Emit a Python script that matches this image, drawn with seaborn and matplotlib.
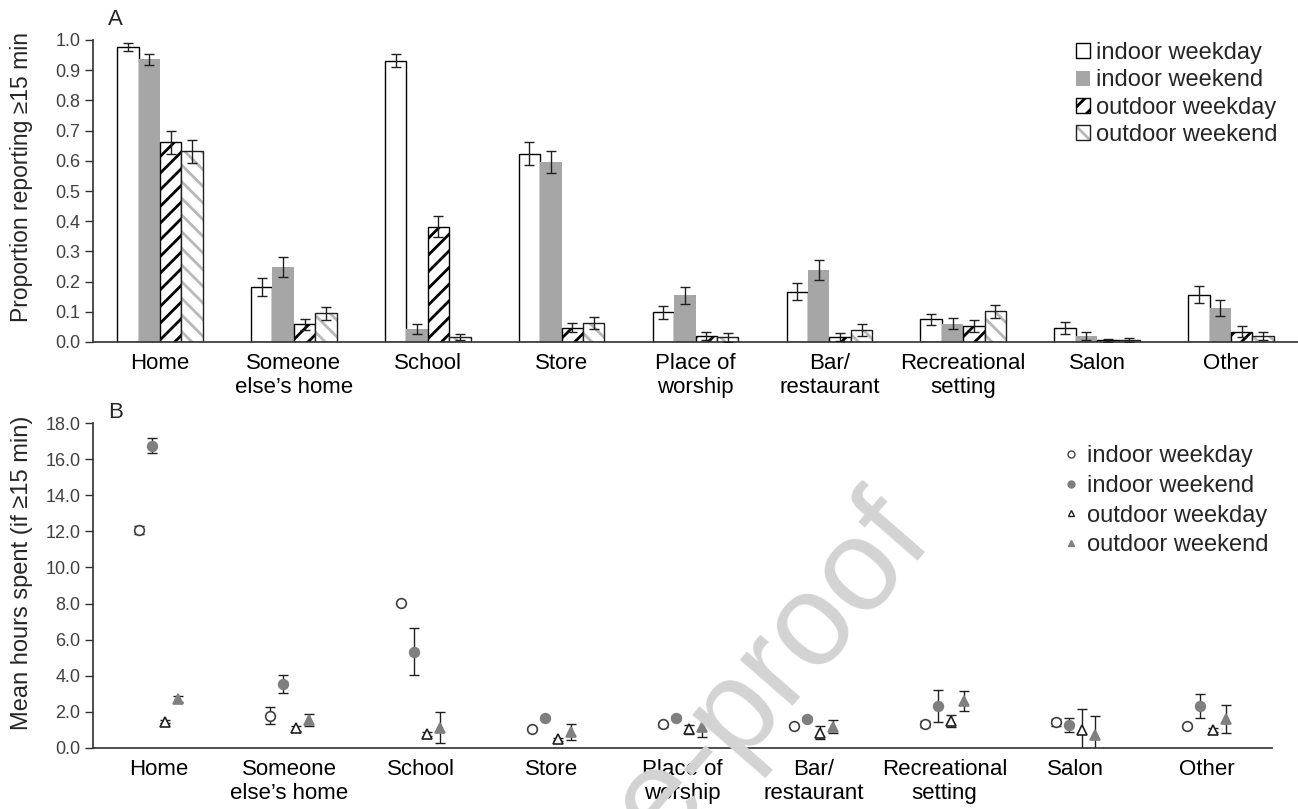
import matplotlib
matplotlib.use("Agg")
import matplotlib.pyplot as plt
from matplotlib.patches import Patch, Rectangle
from matplotlib.lines import Line2D
from matplotlib.ticker import FormatStrFormatter
import numpy as np
import pandas as pd
import seaborn as sns

sns.set_style("white")
plt.rcParams['font.family'] = ['Liberation Sans', 'DejaVu Sans']
plt.rcParams['hatch.linewidth'] = 2.0

locations = ["Home", "Someone\nelse\u2019s home", "School", "Store", "Place of\nworship",
             "Bar/\nrestaurant", "Recreational\nsetting", "Salon", "Other"]
conditions = ["indoor weekday", "indoor weekend", "outdoor weekday", "outdoor weekend"]

# panel A: proportion reporting >=15 min
prop_in_wd = [0.977, 0.181, 0.932, 0.623, 0.098, 0.166, 0.075, 0.047, 0.157]
prop_in_we = [0.936, 0.249, 0.043, 0.596, 0.155, 0.238, 0.060, 0.021, 0.112]
prop_out_wd = [0.662, 0.058, 0.382, 0.047, 0.020, 0.016, 0.052, 0.005, 0.034]
prop_out_we = [0.631, 0.095, 0.016, 0.063, 0.016, 0.039, 0.102, 0.006, 0.020]
prop_err_in_wd = [0.012, 0.030, 0.020, 0.038, 0.022, 0.028, 0.019, 0.019, 0.027]
prop_err_in_we = [0.018, 0.034, 0.018, 0.036, 0.028, 0.032, 0.018, 0.013, 0.026]
prop_err_out_wd = [0.038, 0.018, 0.035, 0.015, 0.014, 0.014, 0.020, 0.006, 0.018]
prop_err_out_we = [0.037, 0.022, 0.010, 0.020, 0.015, 0.019, 0.022, 0.006, 0.014]

# panel B: mean hours spent (if >=15 min)
hrs_in_wd = [12.07, 1.79, 8.05, 1.07, 1.31, 1.20, 1.33, 1.42, 1.22]
hrs_in_we = [16.74, 3.56, 5.33, 1.64, 1.68, 1.59, 2.33, 1.27, 2.33]
hrs_out_wd = [1.46, 1.09, 0.76, 0.48, 1.03, 0.85, 1.51, 1.00, 1.00]
hrs_out_we = [2.71, 1.55, 1.13, 0.90, 1.18, 1.18, 2.60, 0.72, 1.59]
hrs_err_in_wd = [0.20, 0.46, 0.05, 0.05, 0.15, 0.05, 0.15, 0.21, 0.05]
hrs_err_in_we = [0.42, 0.50, 1.29, 0.05, 0.10, 0.10, 0.87, 0.37, 0.65]
hrs_err_out_wd = [0.10, 0.15, 0.10, 0.10, 0.26, 0.37, 0.34, 1.15, 0.10]
hrs_err_out_we = [0.15, 0.34, 0.85, 0.44, 0.58, 0.37, 0.55, 1.05, 0.77]

W, H = 1298, 809
fig = plt.figure(figsize=(W / 100, H / 100), dpi=100)
axA = fig.add_axes([93 / W, 1 - 342 / H, 1205 / W, 302 / H])
axB = fig.add_axes([93 / W, 1 - 748 / H, 1179 / W, 325 / H])

GRAY = "#a6a6a6"

# ---------------- panel A ----------------
df_a = pd.DataFrame({
    "location": np.tile(locations, 4),
    "condition": np.repeat(conditions, len(locations)),
    "prop": prop_in_wd + prop_in_we + prop_out_wd + prop_out_we,
})
errs_a = [prop_err_in_wd, prop_err_in_we, prop_err_out_wd, prop_err_out_we]

sns.barplot(data=df_a, x="location", y="prop", hue="condition", hue_order=conditions,
            palette=["white", GRAY, "white", "white"], width=0.64, errorbar=None,
            saturation=1, legend=False, ax=axA)

bar_groups = list(axA.containers)[:4]
for i, cont in enumerate(bar_groups):
    for p in cont:
        if i == 0:
            p.set_edgecolor("black"); p.set_linewidth(1.0)
        elif i == 1:
            p.set_edgecolor(GRAY); p.set_linewidth(0)
        elif i == 2:
            p.set_hatch("//"); p.set_edgecolor("black"); p.set_linewidth(1.0)
        else:
            p.set_hatch("\\\\"); p.set_edgecolor("#b8b8b8"); p.set_linewidth(0)
            axA.add_patch(Rectangle(p.get_xy(), p.get_width(), p.get_height(),
                                    fill=False, edgecolor="#202020", linewidth=1.0,
                                    zorder=p.get_zorder()))
    xs = [p.get_x() + p.get_width() / 2 for p in cont]
    ys = [p.get_height() for p in cont]
    axA.errorbar(xs, ys, yerr=errs_a[i], fmt="none", ecolor="#202020", elinewidth=1.0,
                 capsize=3.5, capthick=1.0, zorder=4)

axA.set_xlim(-0.5, len(locations) - 0.5)
axA.set_ylim(0, 1.0)
axA.set_yticks(np.arange(0, 1.01, 0.1))
axA.yaxis.set_major_formatter(FormatStrFormatter("%.1f"))
axA.set_xlabel("")
axA.set_ylabel("Proportion reporting \u226515 min", fontsize=16.5)
axA.yaxis.set_label_coords(-60 / 1205, 0.545)

leg_a = [
    Patch(facecolor="white", edgecolor="black", linewidth=1.0),
    Patch(facecolor=GRAY, edgecolor=GRAY, linewidth=0),
    Patch(facecolor="white", edgecolor="black", hatch="//", linewidth=1.0),
    (Patch(facecolor="white", edgecolor="#b8b8b8", hatch="\\\\", linewidth=0),
     Patch(fill=False, edgecolor="#202020", linewidth=1.0)),
]
axA.legend(leg_a, conditions, loc="upper left", bbox_to_anchor=(1076 / W, 1 - 42 / H),
           bbox_transform=fig.transFigure, frameon=False, fontsize=17, borderpad=0,
           borderaxespad=0, handlelength=0.6, handleheight=0.6, handletextpad=0.25,
           labelspacing=0.23)

# ---------------- panel B ----------------
df_b = pd.DataFrame({
    "location": np.tile(locations, 4),
    "condition": np.repeat(conditions, len(locations)),
    "hours": hrs_in_wd + hrs_in_we + hrs_out_wd + hrs_out_we,
})
errs_b = [hrs_err_in_wd, hrs_err_in_we, hrs_err_out_wd, hrs_err_out_we]

sns.pointplot(data=df_b, x="location", y="hours", hue="condition", hue_order=conditions,
              palette=["#404040", "#7f7f7f", "#202020", "#7f7f7f"], dodge=0.3,
              linestyle="none", markers=["o", "o", "^", "^"], errorbar=None,
              legend=False, markersize=7, ax=axB)

pts = list(axB.lines)[:4]
faces = ["white", "#7f7f7f", "white", "#7f7f7f"]
edges = ["#404040", "#7f7f7f", "#202020", "#7f7f7f"]
for i, ln in enumerate(pts):
    ln.set_markerfacecolor(faces[i])
    ln.set_markeredgecolor(edges[i])
    ln.set_markeredgewidth(1.2)
    ln.set_zorder(3)
    axB.errorbar(ln.get_xdata(), ln.get_ydata(), yerr=errs_b[i], fmt="none",
                 ecolor="#202020", elinewidth=1.0, capsize=3.5, capthick=1.0, zorder=2)

axB.set_xlim(-0.5, len(locations) - 0.5)
axB.set_ylim(0, 18)
axB.set_yticks(np.arange(0, 18.1, 2))
axB.yaxis.set_major_formatter(FormatStrFormatter("%.1f"))
axB.set_xlabel("")
axB.set_ylabel("Mean hours spent (if \u226515 min)", fontsize=17)
axB.yaxis.set_label_coords(-60 / 1179, 0.54)

leg_b = [
    Line2D([], [], ls="none", marker="o", mfc="white", mec="#404040", ms=5),
    Line2D([], [], ls="none", marker="o", mfc="#7f7f7f", mec="#7f7f7f", ms=5),
    Line2D([], [], ls="none", marker="^", mfc="white", mec="#202020", ms=5),
    Line2D([], [], ls="none", marker="^", mfc="#7f7f7f", mec="#7f7f7f", ms=5),
]
axB.legend(leg_b, conditions, loc="upper left", bbox_to_anchor=(1062 / W, 1 - 445 / H),
           bbox_transform=fig.transFigure, frameon=False, fontsize=17, borderpad=0,
           borderaxespad=0, handlelength=0.8, handletextpad=0.25, labelspacing=0.33)

for ax in (axA, axB):
    sns.despine(ax=ax)
    for side in ("left", "bottom"):
        ax.spines[side].set_color("#303030")
        ax.spines[side].set_linewidth(1.2)
    ax.tick_params(axis="y", direction="out", length=6, width=1.0, color="#303030",
                   labelsize=13, labelcolor="#404040", pad=3, left=True)
    ax.tick_params(axis="x", length=0, labelsize=16, labelcolor="black", pad=8)

fig.text(108 / W, 1 - 9 / H, "A", fontsize=16, va="top", ha="left")
fig.text(108 / W, 1 - 402 / H, "B", fontsize=16, va="top", ha="left")

# watermark
fig.text(578 / W, 1 - 900 / H, "Journal Pre-proof", fontsize=94, color="#d3d3d3",
         rotation=49, rotation_mode="anchor", ha="center", va="center", zorder=10)

fig.savefig("out.png", dpi=100)
